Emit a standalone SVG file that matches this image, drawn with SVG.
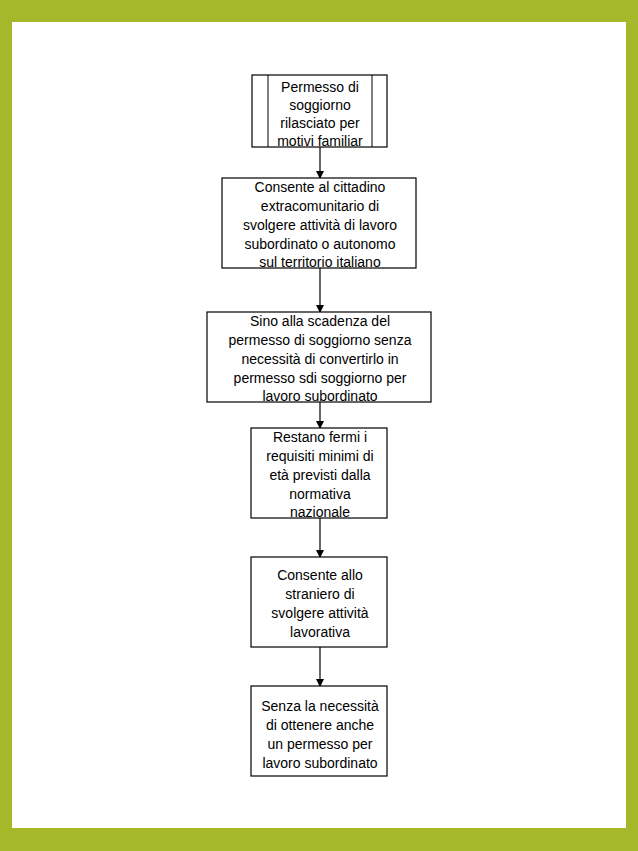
<svg xmlns="http://www.w3.org/2000/svg" width="638" height="851" viewBox="0 0 638 851">
<style>
.b{fill:#fff;stroke:#000;stroke-width:1.2}
text{font-family:"Liberation Sans",Arial,sans-serif;font-size:14px;text-anchor:middle;fill:#000}
.c line{stroke:#000;stroke-width:1.2}
</style>
<defs><marker id="a" markerWidth="8" markerHeight="8" refX="7" refY="4" orient="auto" markerUnits="userSpaceOnUse"><path d="M0,0L8,4L0,8z" fill="#000"/></marker></defs>
<rect width="638" height="851" fill="#a4b82a"/>
<rect x="12" y="22" width="614" height="806" fill="#fff"/>
<g class="c">
<line x1="320" y1="147" x2="320" y2="178" marker-end="url(#a)"/>
<line x1="320" y1="268" x2="320" y2="312" marker-end="url(#a)"/>
<line x1="320" y1="402" x2="320" y2="428" marker-end="url(#a)"/>
<line x1="320" y1="518" x2="320" y2="557" marker-end="url(#a)"/>
<line x1="320" y1="647" x2="320" y2="686" marker-end="url(#a)"/>
</g>
<g id="n1"><rect class="b" x="252" y="75" width="135" height="72"/><line x1="268" y1="75" x2="268" y2="147" stroke="#000"/><line x1="372" y1="75" x2="372" y2="147" stroke="#000"/>
<text x="320" y="92">Permesso di</text><text x="320" y="110">soggiorno</text><text x="320" y="128">rilasciato per</text><text x="320" y="146">motivi familiar</text></g>
<g id="n2"><rect class="b" x="222" y="178" width="194" height="90"/>
<text x="320" y="192">Consente al cittadino</text><text x="320" y="211">extracomunitario di</text><text x="320" y="230">svolgere attività di lavoro</text><text x="320" y="249">subordinato o autonomo</text><text x="320" y="267">sul territorio italiano</text></g>
<g id="n3"><rect class="b" x="207" y="312" width="224" height="90"/>
<text x="320" y="326">Sino alla scadenza del</text><text x="320" y="345">permesso di soggiorno senza</text><text x="320" y="364">necessità di convertirlo in</text><text x="320" y="383">permesso sdi soggiorno per</text><text x="320" y="401">lavoro subordinato</text></g>
<g id="n4"><rect class="b" x="251" y="428" width="136" height="90"/>
<text x="320" y="442">Restano fermi i</text><text x="320" y="461">requisiti minimi di</text><text x="320" y="480">età previsti dalla</text><text x="320" y="499">normativa</text><text x="320" y="517">nazionale</text></g>
<g id="n5"><rect class="b" x="251" y="557" width="136" height="90"/>
<text x="320" y="580">Consente allo</text><text x="320" y="599">straniero di</text><text x="320" y="618">svolgere attività</text><text x="320" y="637">lavorativa</text></g>
<g id="n6"><rect class="b" x="251" y="686" width="136" height="90"/>
<text x="320" y="711">Senza la necessità</text><text x="320" y="730">di ottenere anche</text><text x="320" y="749">un permesso per</text><text x="320" y="768">lavoro subordinato</text></g>
</svg>
